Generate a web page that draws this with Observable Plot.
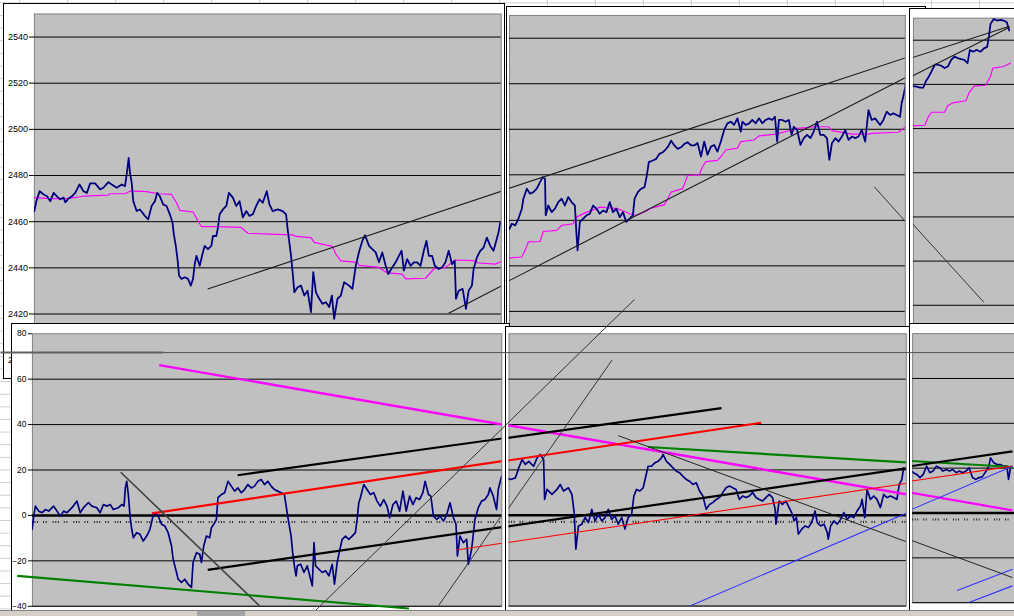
<!DOCTYPE html>
<html><head><meta charset="utf-8">
<script src="https://cdn.jsdelivr.net/npm/d3@7"></script>
<script src="https://cdn.jsdelivr.net/npm/@observablehq/plot@0.6"></script>
<style>
html,body{margin:0;padding:0;}
body{width:1014px;height:616px;position:relative;overflow:hidden;background-color:#fff;
background-image:linear-gradient(to right,#cdcdcd 1px,transparent 1px),linear-gradient(to bottom,#cdcdcd 1px,transparent 1px);
background-size:48px 12.64px;background-position:19px 2.36px;font-family:"Liberation Sans",Arial,sans-serif;}
.panel{position:absolute;background:#fff;border:1.5px solid #000;box-sizing:border-box;overflow:hidden;}
.panel svg{position:absolute;left:-1.5px;top:-1.5px;}
#tabbar{position:absolute;left:0;top:610px;width:1014px;height:6px;background:#d4d0c8;border-top:1px solid #808080;}
#tabbar .blk{position:absolute;top:0;height:6px;background:#a4a4a4;}
</style></head><body>
<script>
// ---- time index t = minutes since the first bar shown ----
// price index (upper charts): [t, value]
const priceSeries = [
[0,2464.6],[2,2468.9],[5.3,2473.2],[9.3,2471.8],[12.7,2471],[16,2468.9],[19.3,2472.5],[22.7,2471],[26,2469.7],[29.3,2470.4],
[31,2468.4],[34.3,2470],[37.7,2471],[41,2472.5],[45.3,2476.1],[49.3,2473.2],[52.7,2472.5],[56,2476.6],[61,2476.6],[66,2474],
[69.3,2474.7],[74.3,2477.1],[77.7,2476.1],[82.7,2474.7],[87.7,2476.1],[91,2475.4],[93.3,2482.6],[94.7,2487.6],[96,2481.1],[97.7,2476.9],
[99.3,2468.9],[102.7,2464.6],[106,2465.3],[111,2462.5],[114.3,2461],[117.7,2466.8],[121,2468.9],[123.3,2472.5],[126,2471],[129.3,2467.5],
[132.7,2466.8],[136,2463.2],[138.7,2459.6],[140,2454.6],[142,2449.5],[143.7,2443.8],[145.3,2436.6],[147.7,2435.2],[151,2435.9],[154.3,2435.2],
[157,2432.3],[159.3,2435.2],[161,2441.6],[162.7,2445.2],[166,2440.9],[168.7,2445.9],[171,2449.5],[174.3,2448.1],[177.7,2449.5],[179.3,2453.8],
[182.7,2453.8],[184.3,2457.4],[186,2463.2],[189.3,2465.3],[192.7,2466.8],[195.3,2472.5],[199.3,2470.4],[202.7,2466.8],[206,2468.9],[209.3,2461.8],
[212.7,2464.6],[216,2462.5],[219.3,2463.2],[222.7,2466.8],[226,2469.7],[229.3,2468.2],[233.3,2473.2],[236,2467.5],[239.3,2464.6],[244.3,2465.3],
[249.3,2464.6],[252.7,2463.2],[254.3,2456.7],[256,2451],[257.7,2445.2],[259.3,2438.1],[261,2429.4],[264.3,2431.6],[267.7,2432.3],[271,2428],
[274.3,2430.1],[277.7,2420.8],[280,2438.1],[282.7,2429.4],[286,2426.6],[289.3,2424.4],[292.7,2425.1],[296,2423],[298.7,2428],[301,2417.9],
[304.3,2426.6],[307.7,2428],[311,2433.8],[316,2432.3],[319.3,2430.9],[322.7,2440.9],[326,2447],[329.3,2451.7],[332,2454.1],[336,2449.5],
[339.3,2448.1],[342.7,2446.7],[346,2442.4],[349.3,2446.7],[352.7,2440.9],[355.3,2437.3],[359.3,2440.2],[362.7,2442.4],[366,2445.2],[368.7,2447.4],
[371,2438.8],[374.3,2443.8],[377.7,2440.9],[381,2442.4],[384.3,2442.4],[387.7,2440.9],[391,2447.4],[393.7,2451.7],[396,2445.2],[399.3,2445.2],
[402,2440.9],[406,2439.5],[409.3,2440.2],[412.7,2442.4],[416,2447.4],[419.3,2441.6],[422,2443.1],[423.3,2426.6],[426,2430.1],[430,2430.9],
[433.3,2422.2],[436,2430.1],[439.3,2432.3],[441,2439.5],[444.3,2444.5],[447.7,2447.4],[451,2448.8],[454.3,2453.1],[457.7,2449.5],[461,2447.4],
[463.3,2451],[466,2455.3],[467.7,2459.6],[475.3,2456.3],[477.7,2458.5],[481,2457.8],[484.3,2460.7],[487.7,2465.1],[489.3,2469.5],[492.7,2473.9],
[496,2471.7],[499.3,2472.4],[502.7,2473.9],[506,2476.8],[508.7,2479],[511,2478.2],[511.7,2462.2],[514.3,2466.5],[517.7,2463.6],[521,2465.1],
[524.3,2468],[527.7,2469.5],[531,2466.5],[534.3,2470.2],[537.7,2468],[541,2466.5],[542.7,2453.4],[543.7,2446.8],[546,2459.3],[549.3,2460.7],
[552.7,2462.2],[556,2462.9],[559.3,2466.5],[562.7,2465.1],[566,2462.9],[569.3,2464.3],[572.7,2463.6],[576,2468],[579.3,2463.6],[582.7,2465.1],
[586,2461.4],[589.3,2463.6],[592.7,2459.3],[596,2460.7],[599.3,2462.2],[601,2469.5],[604.3,2472.4],[607.7,2473.9],[611,2474.6],[613.3,2479.7],
[615.3,2485.6],[619.3,2486.3],[622.7,2487],[626,2489.2],[629.3,2489.9],[632.7,2491.4],[635.3,2492.9],[637.7,2495],[641,2492.9],[644.3,2491.4],
[647.7,2492.1],[651,2493.6],[654.3,2494.3],[657.7,2492.9],[661,2492.9],[664.3,2494],[667.7,2488],[671,2494.6],[674.3,2488.8],[677.7,2492.4],
[681,2493.1],[684.3,2490.2],[687.7,2494.6],[691,2499.7],[694.3,2502.6],[697.7,2503.3],[701,2501.9],[704.3,2504.8],[707.7,2499],[709.3,2503.3],
[712.7,2501.9],[716,2502.6],[719.3,2504.1],[722.7,2502.6],[726,2504.8],[729.3,2502.6],[732.7,2504.1],[736,2504.8],[739.3,2504.1],[742,2505.5],
[744.3,2494.6],[746,2504.1],[749.3,2504.1],[752.7,2503.3],[756,2504.1],[758.7,2497.5],[761,2501.1],[764.3,2499.7],[767.7,2493.1],[771,2496.1],
[774.3,2497.5],[777.7,2496.1],[781,2499],[784.3,2503.3],[787.7,2497.5],[791,2497.5],[794.3,2496.1],[796.7,2486.6],[799.3,2493.9],[802.7,2496.1],
[806,2494.6],[809.3,2496.8],[812.7,2499.7],[816,2495.3],[819.3,2496.8],[822.7,2496.1],[826,2496.8],[829.3,2499.7],[832.7,2494.6],[836,2508.4],
[839.3,2504.1],[842.7,2504.8],[847.7,2501.9],[851,2504.1],[854.3,2507.7],[857.7,2506.3],[861,2507],[864.3,2506.3],[867.7,2505.5],[869.3,2511.4],
[871,2514.3],[872.7,2518],[874,2522.3],[878.7,2519.2],[882.7,2519],[886,2518.5],[889.3,2518.5],[892,2521.5],[894.3,2523],[897.7,2525.9],
[901,2528.9],[904.3,2528.9],[907.7,2528.4],[911,2527.4],[914.3,2528.1],[917.7,2531.1],[921,2532.6],[924.3,2531.9],[927.7,2531.4],[931,2531.1],
[934.3,2529.6],[936.7,2535.6],[940,2534.8],[943.3,2535.6],[947.7,2534.8],[951,2536.3],[954.3,2537],[956,2541.5],[957.7,2547.4],[961,2549.6],
[964.3,2548.9],[967.7,2549.2],[971,2548.9],[974.3,2548.1],[976.7,2544.4]
];
// stepped average (magenta): [t, value]
const averageSeries = [
[0,2470.4],[16,2470],[32.7,2470],[46,2470.8],[49.3,2471.1],[74.3,2471.5],[76,2472.1],[91,2472.1],[96,2473.2],[99.3,2473.2],
[112.7,2473],[124.3,2472.1],[137.7,2471.8],[142.7,2468.2],[146,2464.9],[159.3,2464.2],[164.3,2460.3],[167.7,2457.9],[182.7,2457.9],[207.7,2457.5],
[214.3,2455],[236,2454.6],[259.3,2454.3],[262.7,2453.6],[277.7,2453.1],[281,2451],[299.3,2449.3],[302.7,2445.9],[307.7,2443],[324.3,2442.4],
[326,2441.1],[346,2440.2],[354.3,2437.8],[369.3,2437.3],[372.7,2435.2],[392.7,2435.5],[401,2439.5],[412.7,2440.2],[422.7,2443.4],[441,2443.1],
[446,2442.1],[462.7,2441.6],[468.7,2442.7],[476,2443.5],[487.7,2443.9],[491,2446.8],[494.3,2450.5],[506,2450.7],[509.3,2455.1],[522.7,2455.6],
[527.7,2457.8],[539.3,2458.5],[542.7,2461.4],[552.7,2463.6],[562.7,2465.1],[566,2465.8],[584.3,2465.1],[596,2462.9],[602.7,2462.2],[612.7,2464],
[616,2465.1],[631,2466.9],[634.3,2469.5],[637.7,2472.4],[649.3,2473.9],[654.3,2479.7],[666,2480],[669.3,2483.6],[672.7,2485.8],[684.3,2486.3],
[689.3,2488.8],[692.7,2490.9],[704.3,2491.7],[707.7,2494.6],[721,2495.3],[726,2497.1],[742.7,2497.9],[759.3,2499.7],[764.3,2500.4],[782.7,2501.1],
[796,2501.1],[799.3,2499.4],[819.3,2497.9],[836,2497.9],[839.3,2498.2],[866,2498.7],[872.7,2500.9],[878.7,2501.2],[891,2501.5],[894.3,2505.2],
[897.7,2507.4],[911,2507.4],[914.3,2510.4],[919.3,2511.6],[932.7,2512.6],[936,2516.3],[941,2519.2],[952.7,2519.6],[957.7,2523.7],[960,2527.4],
[971,2528.1],[977.7,2529.6]
];
// oscillator (lower charts): [t, value]
const spreadSeries = [
[-2.3,-6.1],[-0.7,-0.3],[1,4.1],[4.3,1.9],[7.7,1.2],[11,2.6],[14.3,1.9],[19.3,4.1],[22.7,1.9],[26,-0.3],
[29.3,1.9],[32.7,1.2],[37.7,3.4],[42.7,6.3],[46,1.2],[49.3,3.4],[54.3,5.6],[57.7,4.1],[62.7,3.4],[66,1.2],
[69.3,4.8],[72.7,4.1],[76,4.8],[79.3,2.6],[84.3,3.4],[87.7,4.8],[90,4.1],[91.3,12.1],[92.7,15],[94.3,9.2],
[96,-0.3],[97.7,-6.1],[99.3,-9.8],[102.7,-7.6],[106,-8.3],[109.3,-11.3],[112.7,-9.1],[116,-6.1],[118.7,-1],[121,1.2],
[124.3,-0.3],[127.7,-3.9],[131,-4.7],[134.3,-7.6],[137.7,-13.5],[139.3,-19.3],[141,-22.2],[142.7,-25.1],[144.3,-28.1],[147.7,-29.5],
[151,-28.1],[154.3,-30.3],[157.7,-31.7],[159.3,-20.7],[162.7,-16.4],[166,-17.1],[167.7,-20.7],[170,-13.5],[172.7,-9.1],[176,-9.8],
[177.7,-5.4],[181,-3.2],[182.7,-1.8],[184.3,7.8],[187.7,9.2],[191,10],[194.3,15],[197.7,12.9],[201,10.7],[204.3,12.1],
[207.7,10],[211,11.4],[214.3,13.6],[217.7,12.1],[221,12.9],[224.3,15],[227.7,15.8],[231,13.6],[234.3,15],[237.7,12.9],
[241,11.4],[244.3,10.7],[247.7,10],[251,9.2],[254.3,-0.3],[257.7,-9.1],[259.3,-16.4],[261,-22.2],[262.7,-26.6],[264,-22.2],
[267.3,-21.5],[270.7,-25.1],[274,-22.2],[277.3,-28.1],[279,-31],[280.7,-12],[282.3,-22.2],[285.7,-23.7],[289,-25.1],[292.3,-24.4],
[295.7,-26.6],[299,-21.5],[301.3,-30.3],[304,-20.7],[305.7,-17.1],[309,-10.5],[312.3,-9.1],[315.7,-10.5],[319,-9.1],[322.3,-7.6],
[324,-1.8],[325.7,5.6],[327.3,7.8],[330.7,13.6],[334,11.4],[337.3,9.2],[340.7,10],[344,6.3],[347.3,4.1],[350.7,7],
[354,4.1],[356.7,-1],[360,4.8],[363.3,6.3],[366.7,1.9],[370,10.7],[373.3,1.9],[376.7,8.5],[380,4.8],[383.3,7.8],
[386.7,7],[390,10],[392.3,15],[395.7,9.2],[398,8.5],[400.7,-0.3],[404,-1.8],[407.3,-0.3],[410.7,-2.5],[414,0.4],
[417.3,5.6],[420.7,-1],[423.3,-3.9],[424.7,-17.8],[427.3,-9.1],[430.7,-12],[434,-10.5],[435.7,-21.5],[439,-14.9],[442.3,-1.8],
[445.7,3.4],[449,6.3],[452.3,7],[455.7,9.2],[457.3,12.1],[460.7,8.5],[464,2.6],[465.7,11.4],[469,17.2],[476,15.8],
[481,16.5],[484.3,20.9],[487.7,24.6],[491,22.4],[494.3,23.8],[499.3,21.6],[502.7,25.3],[506,26.8],[509.3,24.6],[510.3,7],
[512.7,11.4],[517.7,9.2],[522.7,11.4],[526,13.6],[529.3,10.7],[534.3,12.1],[537.7,9.2],[540,1.2],[541.7,-14.9],[544.3,-4.7],
[547.7,-3.9],[551,-1],[554.3,-3.2],[557.7,2.6],[561,-2.5],[564.3,0.4],[567.7,-2.5],[571,-1],[574.3,2.6],[577.7,-1.8],
[581,-0.3],[584.3,-3.9],[587.7,-1],[591,-6.1],[594.3,-1],[597.7,0.4],[600,8.5],[602.7,11.4],[606,10.7],[609.3,12.1],
[612,17.2],[614.3,21.6],[617.7,21.6],[621,23.1],[624.3,23.8],[627.7,25.3],[629.3,26.8],[632.7,23.8],[636,22.4],[639.3,20.9],
[642.7,19.4],[646,18.7],[649.3,17.2],[652.7,15.8],[656,15],[659.3,13.6],[662.7,14.3],[666,10.7],[669.3,8.5],[672.7,2.6],
[676,4.8],[679.3,5.6],[682.7,7],[686,7.8],[689.3,10],[692.7,12.1],[696,12.9],[699.3,12.1],[702.7,11.4],[706,7],
[709.3,8.5],[712.7,7.8],[716,8.5],[719.3,10],[722.7,7.8],[726,7],[729.3,6.3],[732.7,7.8],[736,9.2],[739.3,7.8],
[742,2.6],[742.7,-3.9],[746,6.3],[749.3,4.8],[752.7,6.3],[756,3.4],[759.3,0.4],[761,-2.5],[763.3,-1],[765.3,-8.3],
[768.7,-6.1],[772,-4.7],[775.3,-5.4],[778.7,-3.2],[782,1.9],[784.3,-3.2],[787.7,-4.7],[791,-3.9],[794.3,-7.6],[795.3,-10.5],
[797.7,-4.7],[801,-2.5],[804.3,-3.9],[807.7,-1.8],[811,1.2],[814.3,-1.8],[817.7,-0.3],[821,-1],[824.3,1.9],[827.7,4.1],
[829.3,7],[832,-1],[834.3,11.4],[837.7,7],[841,8.5],[844.3,7],[847.7,3.4],[851,9.2],[854.3,7.8],[857.7,8.5],
[861,7.8],[864.3,7],[866.7,13.6],[869.3,15.8],[871,20.9],[879.3,18],[882.7,17.2],[886,15.8],[889.3,17.2],[892.7,20.9],
[896,18],[899.3,18.7],[902.7,20.9],[906,20.2],[909.3,18.7],[912.7,19.4],[916,18.7],[919.3,19.4],[922.7,18],[926,18.7],
[929.3,18],[932.7,18.7],[936,20.2],[939.3,15.8],[942.7,15],[946,15.8],[949.3,16.1],[953.3,18.7],[956,20.9],[957.7,24.6],
[961,22.4],[964.3,21.6],[967.7,21.6],[971,20.9],[974.3,20.9],[976,15],[977.7,19.4]
];
// hand-drawn trend lines, upper charts (value scale)
const topTrendLines = [
  {t1:174, v1:2430.8, t2:977, v2:2546.3, color:"#1c1c1c", width:1.1},
  {t1:416, v1:2420.3, t2:977, v2:2545.9, color:"#1c1c1c", width:1.1},
  {t1:842, v1:2474.7, t2:951, v2:2421.3, color:"#333333", width:1}
];
// hand-drawn trend lines, lower charts (oscillator scale)
const bottomTrendLines = [
  {t1:125.3, v1:66.2, t2:980, v2:1.2, color:"#ff00ff", width:2.4},
  {t1:614.3, v1:30.1, t2:980, v2:20.5, color:"#008000", width:2.2},
  {t1:204, v1:17.7, t2:688, v2:47.2, color:"#000000", width:2.2},
  {t1:118, v1:0.9, t2:728, v2:40.8, color:"#ff0000", width:2.2},
  {t1:174, v1:-24, t2:980, v2:27.5, color:"#000000", width:2.2},
  {t1:424, v1:-15.2, t2:980, v2:20.9, color:"#ff0000", width:1.1},
  {t1:652, v1:-40.8, t2:980, v2:20.9, color:"#3333ff", width:1.1},
  {t1:923.7, v1:-34.6, t2:980, v2:-25.1, color:"#3333ff", width:1.1},
  {t1:929.3, v1:-41, t2:980, v2:-32.5, color:"#3333ff", width:1.1},
  {t1:584.3, v1:35.1, t2:980, v2:-28.8, color:"#222222", width:1},
  {t1:86.7, v1:19, t2:229.3, v2:-41.2, color:"#404040", width:1.6},
  {t1:402, v1:-42.1, t2:578, v2:68.4, color:"#333333", width:1}
];
const leftGreenLine = [{t1:-17.3, v1:-26.6, t2:376, v2:-41, color:"#008000", width:2.2}];
const sheetLines = [
  {t1:279, v1:-42.1, t2:600, v2:95.2, color:"#333333", width:1},
  {t1:-34, v1:71.9, t2:129, v2:71.9, color:"#606060", width:2},
  {t1:129, v1:71.9, t2:980, v2:71.9, color:"#555555", width:1}
];
const topTicks = [2400, 2420, 2440, 2460, 2480, 2500, 2520, 2540];
const bottomTicks = [-40, -20, 0, 20, 40, 60, 80];
const markerLevel = -2.9;

// ---- helpers ----
const fx = d => d[0], fy = d => d[1];
function links(list, clip) {
  return list.map(l => Plot.link([l], {x1: "t1", y1: "v1", x2: "t2", y2: "v2",
    stroke: l.color, strokeWidth: l.width, clip}));
}
function panel(p) {
  const div = document.createElement("div");
  div.className = "panel";
  Object.assign(div.style, {left: p.left + "px", top: p.top + "px", width: p.width + "px", height: p.height + "px"});
  const svg = Plot.plot({
    width: p.width, height: p.height,
    marginLeft: p.m[0], marginTop: p.m[1], marginRight: p.m[2], marginBottom: p.m[3],
    x: {domain: p.window, axis: null},
    y: {domain: p.range, axis: p.axis ? "left" : null, ticks: p.ticks, tickFormat: "d",
        tickSize: p.tickSize, tickPadding: p.tickPadding, label: null},
    style: {background: "transparent", color: "#000", fontFamily: "Liberation Sans, Arial, sans-serif", fontSize: p.fontSize + "px"},
    marks: p.marks
  });
  div.appendChild(svg);
  document.body.appendChild(div);
}
function topMarks() {
  return [
    Plot.frame({fill: "#c0c0c0", stroke: "#808080"}),
    Plot.ruleY(topTicks, {stroke: "#000", strokeWidth: 1}),
    Plot.line(averageSeries, {x: fx, y: fy, stroke: "#ff00ff", strokeWidth: 1.2, clip: true}),
    Plot.line(priceSeries, {x: fx, y: fy, stroke: "#000080", strokeWidth: 1.8, clip: true}),
    ...links(topTrendLines, true)
  ];
}
function bottomMarks(extra) {
  return [
    Plot.frame({fill: "#c0c0c0", stroke: "#808080"}),
    Plot.ruleY(bottomTicks.filter(v => v !== 0 && v !== 80), {stroke: "#000", strokeWidth: 1}),
    Plot.ruleY([0], {stroke: "#000", strokeWidth: 2.6}),
    Plot.ruleY([markerLevel], {stroke: "#222", strokeWidth: 2.2, strokeDasharray: "1 1.6 1 1.6 1 5 1 1.6 1 6"}),
    Plot.line(spreadSeries, {x: fx, y: fy, stroke: "#000080", strokeWidth: 1.7, clip: true}),
    ...links(bottomTrendLines, true),
    ...(extra || [])
  ];
}
const topRange = [2400, 2550], botRange = [-40, 80];

// upper row
panel({left: 3, top: 3, width: 501.5, height: 375.5, m: [31, 10.5, 1.8, 17.4], window: [0, 468.7], range: topRange,
  axis: true, ticks: topTicks, tickSize: 5, tickPadding: 1.5, fontSize: 9, marks: topMarks()});
panel({left: 506.3, top: 6, width: 420, height: 372, m: [3, 9, 19.3, 19.9], window: [475.3, 873], range: topRange,
  axis: false, marks: topMarks()});
panel({left: 909.3, top: 8, width: 121, height: 370, m: [4, 9.8, 5, 23.3], window: [879.3, 991.3], range: topRange,
  axis: false, marks: topMarks()});
// lower row
panel({left: 11, top: 323.3, width: 499, height: 300, m: [21, 10.3, 6.7, 16.1], window: [-2, 469.3], range: botRange,
  axis: true, ticks: bottomTicks, tickSize: 4, tickPadding: 2, fontSize: 8.5, marks: bottomMarks(links(leftGreenLine, false))});
panel({left: 505, top: 326.3, width: 420, height: 300, m: [3.5, 7.3, 17.3, 19.1], window: [474.5, 873.7], range: botRange,
  axis: false, marks: bottomMarks()});
panel({left: 909.3, top: 323.3, width: 121, height: 300, m: [3.2, 10.3, 5, 16.1], window: [878.5, 991.3], range: botRange,
  axis: false, marks: bottomMarks()});

// drawing layer on top of the sheet (lines drawn across the embedded charts)
const overlay = Plot.plot({
  width: 1014, height: 616, margin: 0,
  x: {domain: [-34, 980], axis: null},
  y: {domain: [-43.86, 226.32], axis: null},
  style: {position: "absolute", left: "0px", top: "0px", background: "transparent", pointerEvents: "none"},
  marks: links(sheetLines, false)
});
document.body.appendChild(overlay);

// sheet tab bar at the bottom
const bar = document.createElement("div");
bar.id = "tabbar";
bar.innerHTML = '<div class="blk" style="left:197px;width:48px"></div>';
document.body.appendChild(bar);
</script>
</body></html>
